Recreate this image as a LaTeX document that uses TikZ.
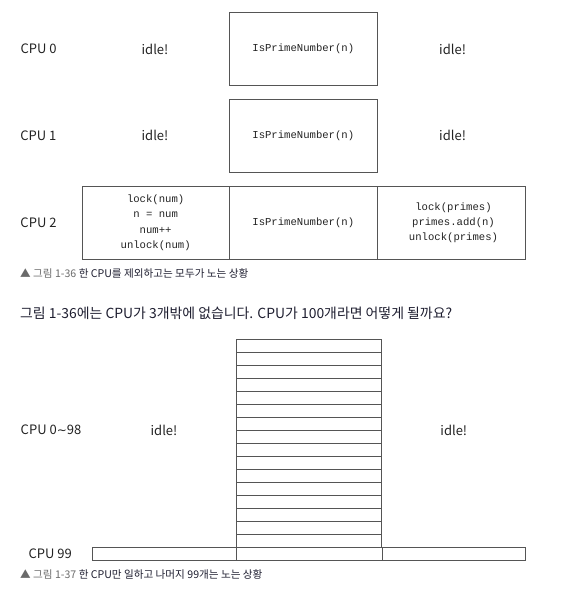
\documentclass[tikz,border=0pt]{standalone}
\usepackage{fontspec}
\setmainfont{Noto Sans CJK KR}
\newfontfamily\monof{Liberation Mono}
\newfontfamily\symf{DejaVu Sans}
\definecolor{linec}{HTML}{555555}
\definecolor{txtc}{HTML}{222222}
\definecolor{capg}{HTML}{6A6A6A}
\definecolor{capd}{HTML}{1E1E30}
\tikzset{
  cell/.style={draw=linec, line width=0.9pt, rectangle, inner sep=0pt},
  lbl/.style={font=\fontsize{13}{15}\selectfont, text=txtc, inner sep=0pt},
  code/.style={font=\monof\fontsize{10.6}{15.3}\selectfont, text=txtc, align=center, inner sep=0pt},
  captxt/.style={font=\fontsize{10.6}{13}\selectfont, inner sep=0pt, anchor=west},
  stackline/.style={draw=linec, line width=0.9pt}
}
\begin{document}
\begin{tikzpicture}[x=1pt,y=-1pt]
\useasboundingbox (0,0) rectangle (568,596);
% ---- CPU 0
\node[cell, minimum width=148pt, minimum height=73.4pt] (b0) at (303.3,49) {};
\node[code] (t0) at (b0.center) {IsPrimeNumber(n)};
\node[lbl] (c0) at (38.6,49) {CPU 0};
\node[lbl] (i0l) at (155,49) {idle!};
\node[lbl] (i0r) at (452.6,49) {idle!};
% ---- CPU 1
\node[cell, minimum width=148pt, minimum height=73.4pt] (b1) at (303.3,135.7) {};
\node[code] (t1) at (b1.center) {IsPrimeNumber(n)};
\node[lbl] (c1) at (38.4,135.7) {CPU 1};
\node[lbl] (i1l) at (155,135.7) {idle!};
\node[lbl] (i1r) at (452.6,135.7) {idle!};
% ---- CPU 2
\node[cell, minimum width=147.3pt, minimum height=73.3pt] (b2a) at (155.65,222.65) {};
\node[cell, minimum width=148pt, minimum height=73.3pt] (b2b) at (303.3,222.65) {};
\node[cell, minimum width=148.2pt, minimum height=73.3pt] (b2c) at (451.4,222.65) {};
\node[code] (t2a) at (155.65,222.8) {lock(num)\\n = num\\num++\\unlock(num)};
\node[code] (t2b) at (b2b.center) {IsPrimeNumber(n)};
\node[code] (t2c) at (453.5,222.6) {lock(primes)\\primes.add(n)\\unlock(primes)};
\node[lbl] (c2) at (38.5,222.65) {CPU 2};
% ---- caption 1
\node[captxt] (cap1) at (20,273) {\textcolor{capg}{▲ 그림 1-36} \textcolor{capd}{한 CPU를 제외하고는 모두가 노는 상황}};
% ---- sentence
\node[anchor=west, inner sep=0pt, font=\fontsize{13.9}{16}\selectfont, text=capd] (sent) at (20,313.3) {그림 1-36에는 CPU가 3개밖에 없습니다. CPU가 100개라면 어떻게 될까요?};
% ---- stack
\foreach \k in {0,...,15} {
  \node[cell, minimum width=144.8pt, minimum height=13pt] (s\k) at (309.1,{345.8+13*\k}) {};
}
\node[cell, minimum width=433pt, minimum height=13pt] (bar) at (309.2,553.8) {};
\draw[stackline] (s15.south west) -- (s15.south west |- bar.south);
\draw[stackline] (s15.south east) -- (s15.south east |- bar.south);
\node[lbl] (c98) at (51,430) {CPU 0{\symf\fontsize{12}{14}\selectfont ∼}98};
\node[lbl] (c99) at (50.2,554) {CPU 99};
\node[lbl] (i98l) at (164,430) {idle!};
\node[lbl] (i98r) at (453.8,430) {idle!};
% ---- caption 2
\node[captxt] (cap2) at (20,574.3) {\textcolor{capg}{▲ 그림 1-37} \textcolor{capd}{한 CPU만 일하고 나머지 99개는 노는 상황}};
\end{tikzpicture}
\end{document}
